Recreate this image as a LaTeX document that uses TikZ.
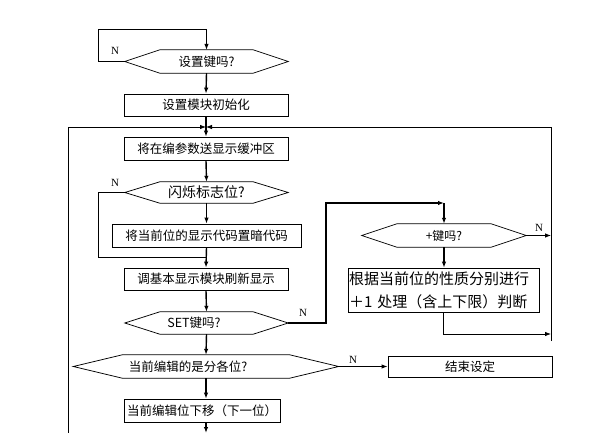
\documentclass[tikz,border=0pt]{standalone}
\usepackage{fontspec}
\setmainfont{Liberation Serif}
\newfontfamily\cjk{Noto Sans CJK SC}
\usetikzlibrary{arrows.meta,calc}
\newcommand{\hexout}[2]{\draw[boxline] (#1.west) -- ([xshift=#2]#1.north west) -- ([xshift=-#2]#1.north east) -- (#1.east) -- ([xshift=-#2]#1.south east) -- ([xshift=#2]#1.south west) -- cycle;}
\tikzset{
  boxline/.style={line width=0.75pt},
  box/.style={draw,boxline,inner sep=0pt,font=\cjk\fontsize{12.5}{14}\selectfont},
  hexa/.style={inner sep=0pt,font=\cjk\fontsize{12.5}{14}\selectfont},
  txt/.style={inner sep=0pt,font=\cjk\fontsize{12.5}{14}\selectfont},
  arr/.style={line width=1.4pt,-{Latex[length=6pt,width=4.5pt]}},
  thinln/.style={line width=0.8pt},
  thinarr/.style={line width=0.8pt,-{Latex[length=6pt,width=4.5pt]}},
  lab/.style={inner sep=0pt,font=\fontsize{11}{12}\selectfont}
}
\begin{document}
\begin{tikzpicture}[x=1pt,y=-1pt]
\useasboundingbox (0,0) rectangle (592,433);
% nodes
\node[hexa,minimum width=163,minimum height=23] (d1) at (206.5,61.5) {设置键吗?};
\hexout{d1}{35}
\node[box,minimum width=164,minimum height=22] (b1) at (206,105) {设置模块初始化};
\node[box,minimum width=164,minimum height=23] (b2) at (206,148.5) {将在编参数送显示缓冲区};
\node[hexa,minimum width=163,minimum height=21,font=\cjk\fontsize{14}{15}\selectfont] (d2) at (206.5,192.5) {闪烁标志位?};
\hexout{d2}{35}
\node[box,minimum width=189,minimum height=23] (b3) at (206.5,235.5) {将当前位的显示代码置暗代码};
\node[box,minimum width=164,minimum height=22] (b4) at (206,279) {调基本显示模块刷新显示};
\node[hexa,minimum width=163,minimum height=22] (d3) at (206.5,323) {};
\hexout{d3}{35}
\node[txt] (d3t) at (194,323) {SET键吗?};
\node[hexa,minimum width=265,minimum height=23] (d4) at (206,366.5) {};
\hexout{d4}{49}
\node[txt] (d4t) at (188,366.5) {当前编辑的是分各位?};
\node[box,minimum width=156,minimum height=23] (b5) at (202,410.5) {当前编辑位下移（下一位）};
\node[hexa,minimum width=164,minimum height=23,font=\cjk\fontsize{12}{14}\selectfont] (d5) at (444,235.5) {+键吗?};
\hexout{d5}{35}
\node[box,minimum width=191,minimum height=44,text width=189,align=left,inner xsep=1pt,font=\cjk\fontsize{15}{23}\selectfont] (b6) at (443.5,290) {根据当前位的性质分别进行\\＋1 处理（含上下限）判断};
\node[box,minimum width=164,minimum height=21] (b7) at (470,366.5) {结束设定};
% helper coordinates
\coordinate (tl) at (98,29);
\coordinate (jn) at (206,127);
\coordinate (lb) at (68,433);
\coordinate (rt) at (551,127);
\coordinate (rbe) at (551,341);
\coordinate (rb) at (551,334);
\coordinate (l2) at (98,257);
\coordinate (c1) at (326,203);
\coordinate (pk) at (444,203);
\coordinate (bot) at (206,433);
% connectors
\draw[thinarr] (d1.west) -| (tl) -| (d1.north);
\draw[arr] (d1.south) -- (b1.north);
\draw[arr] (b1.south) -- (b2.north);
\draw[thinarr] (lb) |- (jn);
\draw[thinarr] (rbe) -- (rt) -- (jn);
\draw[arr] (b2.south) -- (d2.north);
\draw[arr] (d2.south) -- (b3.north);
\draw[thinln] (d2.west) -| (l2) -- (l2 -| b3.south);
\draw[arr] (b3.south) -- (b4.north);
\draw[arr] (b4.south) -- (d3.north);
\draw[arr] (d3.east) -| (c1) -- (pk);
\draw[arr] (pk) -- (d5.north);
\draw[thinarr] (d5.east) -- (d5.east -| rt);
\draw[arr] (d5.south) -- (d5.south |- b6.north);
\draw[thinarr] (b6.south) |- (rb);
\draw[arr] (d3.south) -- (d4.north);
\draw[arr] (d4.east) -- (b7.west);
\draw[arr] (d4.south) -- (d4.south |- b5.north);
\draw[arr] (d4.south |- b5.south) -- (bot);
% labels
\node[lab] (n1) at (115,51) {N};
\node[lab] (n2) at (115,183) {N};
\node[lab] (n3) at (303,313) {N};
\node[lab] (n4) at (539,228) {N};
\node[lab] (n5) at (353,360) {N};
\end{tikzpicture}
\end{document}
